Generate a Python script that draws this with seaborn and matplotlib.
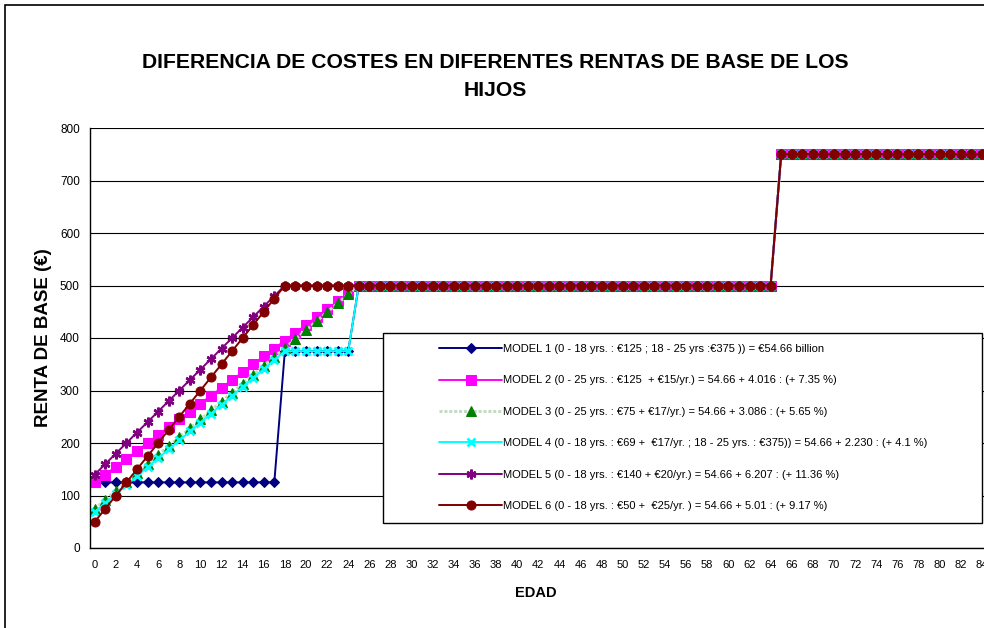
import numpy as np
import pandas as pd
import matplotlib
matplotlib.use("Agg")
import matplotlib.pyplot as plt
from matplotlib.patches import Rectangle
import seaborn as sns

# -------------------------------
# Data
# -------------------------------
ages = list(range(0, 91))

model1 = [125] * 18 + [375] * 7 + [500] * 40 + [750] * 26
model2 = [125, 140, 155, 170, 185, 200, 215, 230, 245, 260, 275, 290, 305,
          320, 335, 350, 365, 380, 395, 410, 425, 440, 455, 470, 485] + [500] * 40 + [750] * 26
model3 = [75, 92, 109, 126, 143, 160, 177, 194, 211, 228, 245, 262, 279,
          296, 313, 330, 347, 364, 381, 398, 415, 432, 449, 466, 483] + [500] * 40 + [750] * 26
model4 = [69, 86, 103, 120, 137, 154, 171, 188, 205, 222, 239, 256, 273,
          290, 307, 324, 341, 358] + [375] * 7 + [500] * 40 + [750] * 26
model5 = [140, 160, 180, 200, 220, 240, 260, 280, 300, 320, 340, 360, 380,
          400, 420, 440, 460, 480] + [500] * 47 + [750] * 26
model6 = [50, 75, 100, 125, 150, 175, 200, 225, 250, 275, 300, 325, 350,
          375, 400, 425, 450, 475] + [500] * 47 + [750] * 26

labels = [
    "MODEL 1 (0 - 18 yrs. : €125 ; 18 - 25 yrs :€375 )) = €54.66 billion",
    "MODEL 2 (0 - 25 yrs. : €125  + €15/yr.) = 54.66 + 4.016 : (+ 7.35 %)",
    "MODEL 3 (0 - 25 yrs. : €75 + €17/yr.) = 54.66 + 3.086 : (+ 5.65 %)",
    "MODEL 4 (0 - 18 yrs. : €69 +  €17/yr. ; 18 - 25 yrs. : €375)) = 54.66 + 2.230 : (+ 4.1 %)",
    "MODEL 5 (0 - 18 yrs. : €140 + €20/yr.) = 54.66 + 6.207 : (+ 11.36 %)",
    "MODEL 6 (0 - 18 yrs. : €50 +  €25/yr. ) = 54.66 + 5.01 : (+ 9.17 %)",
]

series = [model1, model2, model3, model4, model5, model6]

# -------------------------------
# Styles
# -------------------------------
styles = [
    dict(color="#000080", marker="D", markersize=5, lw=1.4,
         markerfacecolor="#000080", markeredgecolor="#000080"),
    dict(color="#FF00FF", marker="s", markersize=6.5, lw=1.4,
         markerfacecolor="#FF00FF", markeredgecolor="#FF00FF"),
    dict(color="#c4dcc4", marker="^", markersize=6.5, lw=2.2, ls=(0, (1, 0.6)),
         markerfacecolor="#008000", markeredgecolor="#008000"),
    dict(color="#00FFFF", marker="x", markersize=6, lw=1.4, markeredgewidth=2,
         markerfacecolor="#00FFFF", markeredgecolor="#00FFFF"),
    dict(color="#800080", marker=(6, 2, 0), markersize=7, lw=1.4, markeredgewidth=1.8,
         markerfacecolor="#800080", markeredgecolor="#800080"),
    dict(color="#800000", marker="o", markersize=6.5, lw=1.4,
         markerfacecolor="#800000", markeredgecolor="#800000"),
]

sns.set_style("white")
plt.rcParams["font.family"] = ["Liberation Sans", "DejaVu Sans"]
plt.rcParams["text.color"] = "black"
plt.rcParams["axes.labelcolor"] = "black"
plt.rcParams["xtick.color"] = "black"
plt.rcParams["ytick.color"] = "black"

W, H = 984, 628
fig = plt.figure(figsize=(W / 100, H / 100), dpi=100)

# Outer chart border (cropped at right and bottom)
fig.patches.append(Rectangle((5 / W, -1), 2, 1 + (H - 5) / H, transform=fig.transFigure,
                             fill=False, edgecolor="black", lw=1.2, zorder=0))

unit = 10.56
left_px = 89.5
n = len(ages)
ax = fig.add_axes([left_px / W, (H - 548) / H, n * unit / W, 420 / H])

for vals, lab, st in zip(series, labels, styles):
    df = pd.DataFrame({"EDAD": ages, "RENTA": vals})
    sns.lineplot(data=df, x="EDAD", y="RENTA", ax=ax, label=lab, **st)

ax.set_xlim(-0.5, n - 0.5)
ax.set_ylim(0, 800)
ax.set_yticks(np.arange(0, 801, 100))
ax.set_xticks(np.arange(0, 85, 2))
ax.set_xticks(np.arange(-0.5, n, 1), minor=True)
ax.tick_params(axis="x", which="major", length=0, pad=9, labelsize=8)
ax.tick_params(axis="x", which="minor", length=4, width=0.8, direction="out", color="black")
ax.tick_params(axis="y", which="major", length=4, width=0.8, direction="out", color="black",
               labelsize=8.5, pad=3)
ax.grid(axis="y", color="black", lw=0.8)
ax.grid(axis="x", visible=False)
for s in ["top", "right"]:
    ax.spines[s].set_visible(False)
for s in ["left", "bottom"]:
    ax.spines[s].set_color("black")
    ax.spines[s].set_linewidth(1.0)

ax.set_ylabel("RENTA DE BASE (€)", fontsize=13.5, fontweight="bold", labelpad=6)
ax.set_xlabel("EDAD", fontsize=10.5, fontweight="bold")
ax.xaxis.set_label_coords((536 - left_px) / (n * unit), -0.09)

fig.text(495 / W, 1 - 62 / H, "DIFERENCIA DE COSTES EN DIFERENTES RENTAS DE BASE DE LOS",
         ha="center", va="center", fontsize=15.2, fontweight="bold")
fig.text(495 / W, 1 - 91 / H, "HIJOS",
         ha="center", va="center", fontsize=15.2, fontweight="bold")

# Legend box, drawn inside the axes above the lines
box = Rectangle((383 / W, (H - 523) / H), (982 - 383) / W, 190 / H,
                transform=fig.transFigure, facecolor="white",
                edgecolor="black", lw=1.0, zorder=4.5, clip_on=False)
ax.add_patch(box)
leg = ax.legend(loc="upper left", bbox_to_anchor=(439 / W, (H - 344) / H),
                bbox_transform=fig.transFigure, frameon=False, fontsize=8,
                handlelength=5.7, handletextpad=0.1, labelspacing=1.93,
                borderpad=0, borderaxespad=0)
leg.set_zorder(6)

fig.savefig("out.png", dpi=100)
